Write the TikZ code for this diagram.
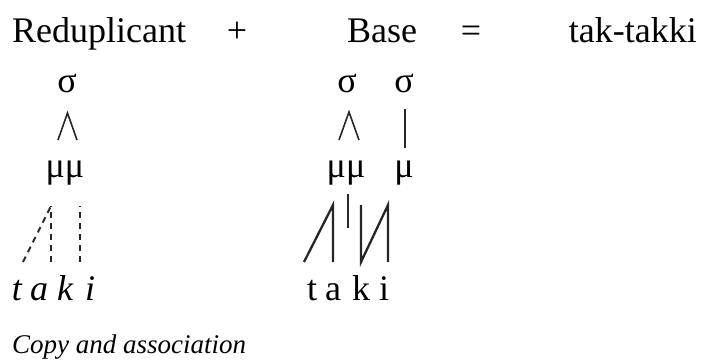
\documentclass[tikz,border=0pt]{standalone}
\usepackage{fontspec}
\setmainfont{Liberation Serif}
\usetikzlibrary{positioning}
\begin{document}
\begin{tikzpicture}[x=1pt,y=-1pt,font=\fontsize{36}{40}\selectfont]
	\tikzstyle{word}=[anchor=base,inner sep=0pt,text=black]
	\tikzstyle{seg}=[word,font=\fontsize{36}{40}\selectfont\itshape]
	\tikzstyle{assoc}=[line width=2.3pt,black!85]
	\tikzstyle{copy}=[assoc,line width=2pt,dash pattern=on 6pt off 5pt]
	\useasboundingbox (0,0) rectangle (701,362);
	% heading
	\node[word,anchor=base west] (red)  at (12,42)  {Reduplicant};
	\node[word]                  (plus) at (237,42) {+};
	\node[word]                  (base) at (382,42) {Base};
	\node[word]                  (eq)   at (471,42) {=};
	\node[word,anchor=base east] (out)  at (697,42) {tak-takki};
	% syllables and moras
	\node[word] (sR)  at (67,92)  {σ};
	\node[word] (sB1) at (347,92) {σ};
	\node[word] (sB2) at (404,92) {σ};
	\node[word] (mR)  at (65,177)  {μμ};
	\node[word] (mB1) at (346,177) {μμ};
	\node[word] (mB2) at (404,177) {μ};
	% segments
	\node[seg]  (t1) at (17,300) {t};
	\node[seg]  (a1) at (39,300) {a};
	\node[seg]  (k1) at (65,300) {k};
	\node[seg]  (i1) at (90,300) {i};
	\node[word] (t2) at (312,300) {t};
	\node[word] (a2) at (333,300) {a};
	\node[word] (k2) at (361,300) {k};
	\node[word] (i2) at (384,300) {i};
	% line ends
	\coordinate (sRl) at (58,140);  \coordinate (sRt) at (67.5,113); \coordinate (sRr) at (77,140);
	\coordinate (sBl) at (339,140); \coordinate (sBt) at (349,112);  \coordinate (sBr) at (359,140);
	\coordinate (sB2b) at (405,109); \coordinate (sB2e) at (405,148);
	\coordinate (cT) at (51,206); \coordinate (cK) at (80,206);
	\coordinate (ct) at (23,262); \coordinate (ca) at (51,262); \coordinate (ck) at (80,262);
	\coordinate (bT1) at (333,205); \coordinate (bT2) at (388,205);
	\coordinate (bt) at (304,262); \coordinate (ba) at (333,262);
	\coordinate (bk) at (361,262); \coordinate (bi) at (388,262);
	\coordinate (bk0) at (361,205);
	\coordinate (mid1) at (348,194); \coordinate (mid2) at (348,228);
	% association lines
	\draw[assoc,line width=1.6pt] (sRl) -- (sRt) -- (sRr);
	\draw[assoc,line width=1.6pt] (sBl) -- (sBt) -- (sBr);
	\draw[assoc] (sB2b) -- (sB2e);
	\draw[copy] (ct) -- (cT);
	\draw[copy] (ca) -- (cT);
	\draw[copy] (ck) -- (cK);
	\draw[assoc] (bt) -- (bT1) -- (ba);
	\draw[assoc] (mid1) -- (mid2);
	\draw[assoc] (bk0) -- (bk) -- (bT2) -- (bi);
	% caption
	\node[word,anchor=base west,font=\fontsize{27}{30}\selectfont\itshape] (cap) at (12,353) {Copy and association};
\end{tikzpicture}
\end{document}
